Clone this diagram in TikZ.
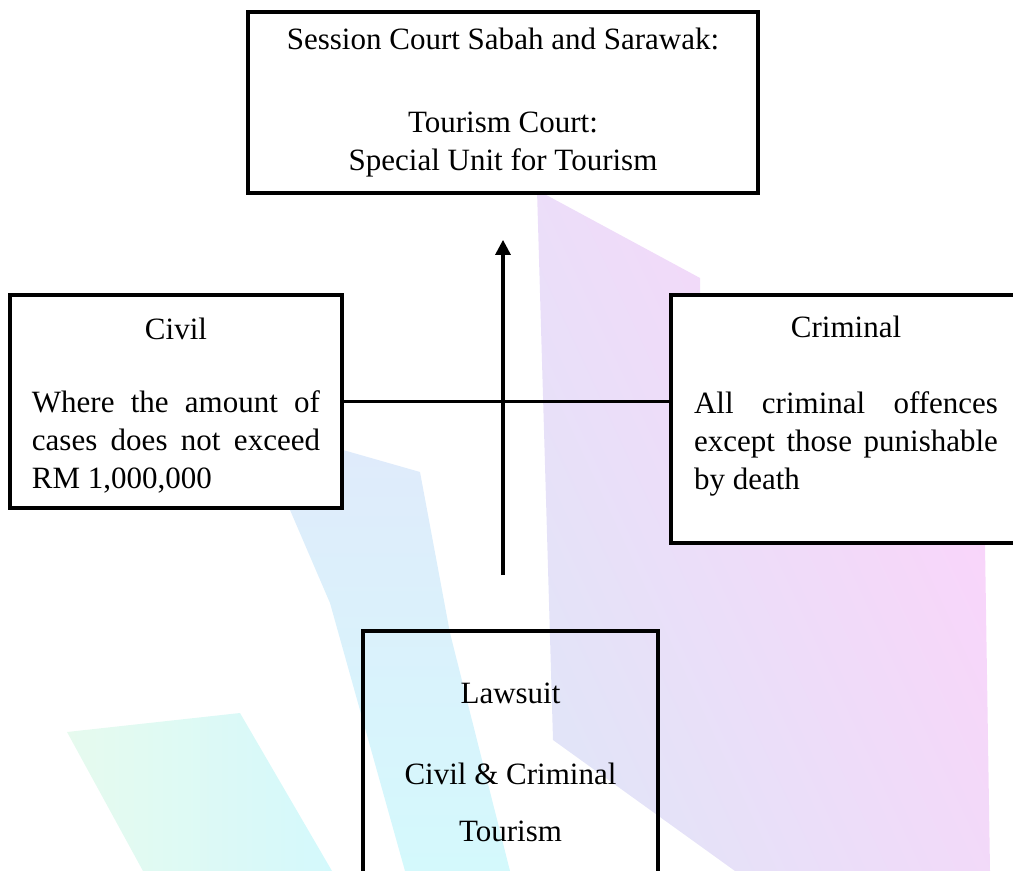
\documentclass[tikz,border=0pt]{standalone}
\usepackage{fontspec}
\setmainfont{Liberation Serif}
\usepackage{xcolor}
\definecolor{WmPink}{RGB}{252,211,250}
\definecolor{WmLilac}{RGB}{226,228,248}
\definecolor{WmBlue}{RGB}{224,234,251}
\definecolor{WmCyan}{RGB}{212,249,252}
\definecolor{WmGreen}{RGB}{230,250,238}
\usetikzlibrary{positioning}
\usetikzlibrary{calc}
\usetikzlibrary{arrows.meta}

\begin{document}
\begin{tikzpicture}[
      x=0.387pt, y=-0.387pt
      , box/.style={draw, line width=1.5pt, inner sep=0pt, font=\fontsize{12}{14.7}\selectfont}
      , white-box/.style={box, fill=white}
      , link/.style={line width=0.8pt}
      ]

      \tikzset{>={Triangle[length=5.8pt,width=5.8pt]}}

      \useasboundingbox (0,0) rectangle (1013,871);

      % pale logo in the background
      \shade[top color=WmPink, bottom color=WmLilac, shading angle=-65] (537,190) -- (700,278) -- (700,300) -- (990,300) -- (985,545) -- (990,871) -- (735,871) -- (553,740) -- cycle;
      \shade[top color=WmBlue, bottom color=WmCyan] (245,422) -- (420,472) -- (450,633) -- (510,871) -- (405,871) -- (330,603) -- (290,510) -- cycle;
      \shade[left color=WmGreen, right color=WmCyan] (67,732) -- (240,713) -- (332,871) -- (143,871) -- cycle;

      \node[white-box, minimum width=197.4pt, minimum height=70pt, align=center] (court) at (503,102.5)
        {Session Court Sabah and Sarawak:\\[17.4pt]Tourism Court:\\Special Unit for Tourism};

      \node[white-box, minimum width=128.5pt, minimum height=82.4pt, text width=111.5pt, align=justify] (civil) at (176,401.5)
        {\centerline{Civil}\par\vspace{13.5pt}\noindent Where the amount of\linebreak cases does not exceed\linebreak RM 1,000,000\par\vspace{-3pt}\hrule height 0pt};

      \node[white-box, minimum width=135.5pt, minimum height=96pt, text width=117.6pt, align=justify] (criminal) at (846,419)
        {\centerline{Criminal}\par\vspace{15pt}\noindent All criminal offences\linebreak except those punishable\linebreak by death\par\vspace{10pt}\hrule height 0pt};

      \node[box, minimum width=114.2pt, minimum height=102pt, anchor=north, align=center] (lawsuit) at (510.5,629)
        {Lawsuit\\[16.6pt]Civil \& Criminal\\[7.4pt]Tourism};

      \coordinate (arrow-tip) at ($ (court.south) + (0,45) $);
      \coordinate (arrow-foot) at ($ (lawsuit.north -| court.south) + (0,-54) $);

      \draw[->, line width=1.2pt] (arrow-foot) -- (arrow-tip);
      \draw[link] (civil.east) -- (civil.east -| criminal.west);
    \end{tikzpicture}
\end{document}
